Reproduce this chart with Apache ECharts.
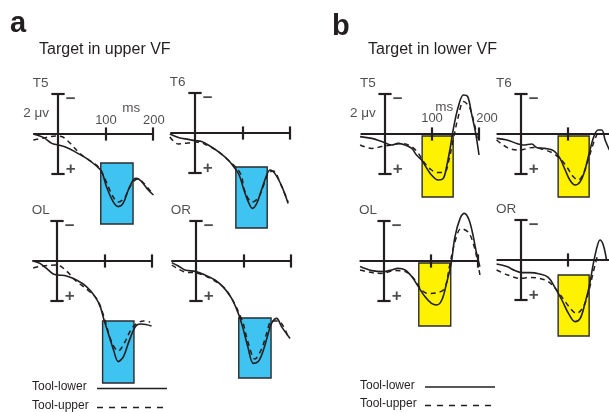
<!DOCTYPE html>
<html><head><meta charset="utf-8">
<script src="https://cdn.jsdelivr.net/npm/echarts@6/dist/echarts.min.js"></script>
<style>html,body{margin:0;padding:0;background:#fff}#c{width:609px;height:412px}</style>
</head><body><div id="c"></div>
<script>
// ---------------- DATA (time in ms, amplitude in µV, positive plotted downward) ----------------
const panelNames = ['T5', 'T6', 'OL', 'OR'];
const figureLetters = ['a', 'b'];
const figureTitles = ['Target in upper VF', 'Target in lower VF'];
const seriesNames = ['Tool-lower', 'Tool-upper'];
const axisTime = [-52, 200];      // horizontal time axis extent (ms)
const axisTicks = [100, 200];     // tick positions (ms)
const tickLabels = ['100', '200'];
const unitLabels = ['2 μv', 'ms'];
const barVolt = 2;                // half length of the amplitude scale bar (µV)

// a: target in upper visual field
const aT5_lower = [[-52,0],[-31,0.17],[-13,0.47],[1,0.55],[18,0.67],[39,0.93],[60,1.22],[81,1.6],[92,1.88],[102,2.63],[116,3.38],[127,3.63],[137,3.47],[148,2.8],[159,2.27],[166,2.22],[176,2.38],[190,2.8],[201,3.05]];
const aT5_upper = [[-52,0.3],[-30,0.2],[-5,0.1],[10,0.15],[25,0.45],[45,0.95],[65,1.3],[85,1.65],[100,2.3],[115,3.1],[127,3.4],[140,3.2],[150,2.7],[160,2.35],[168,2.25],[180,2.45],[200,3.0]];
const aT6_lower = [[-53,0.05],[-35,0.22],[-14,0.32],[0,0.38],[14,0.43],[28,0.6],[49,0.93],[70,1.35],[84,1.77],[93,2.1],[102,2.77],[112,3.43],[121,3.77],[130,3.52],[140,2.85],[151,2.1],[158,1.85],[168,2.02],[183,2.68],[196,3.52]];
const aT6_upper = [[-53,0.2],[-35,0.55],[-15,0.5],[0,0.45],[20,0.55],[50,0.95],[65,1.25],[95,2.0],[105,2.9],[120,3.45],[133,3.25],[143,2.7],[155,2.0],[165,1.9],[180,2.55],[196,3.45]];
const aOL_lower = [[-50,0],[-36,0.12],[-22,0.37],[-8,0.65],[3,0.7],[20,0.75],[41,0.95],[62,1.28],[80,1.78],[91,2.28],[99,2.95],[108,3.62],[119,4.45],[129,5.03],[140,4.78],[150,4.12],[161,3.45],[168,3.2],[178,3.15],[199,3.25]];
const aOL_upper = [[-50,0.35],[-30,0.25],[0,0.2],[20,0.5],[40,1.0],[62,1.4],[84,1.9],[97,2.65],[115,4.05],[129,4.5],[143,4.05],[153,3.55],[164,3.2],[182,3.0],[196,3.05]];
const aOR_lower = [[-51,0.08],[-37,0.25],[-23,0.45],[0,0.53],[19,0.7],[40,0.95],[58,1.32],[75,1.87],[89,2.62],[98,3.28],[109,4.28],[121,5.12],[131,5.03],[142,4.45],[152,3.62],[159,3.12],[170,2.87],[180,3.28],[198,3.87]];
const aOR_upper = [[-51,0.2],[-23,0.55],[1,0.6],[40,1.0],[65,1.5],[96,2.9],[110,4.1],[124,4.9],[138,4.4],[149,3.6],[159,3.0],[173,3.0],[194,3.8]];

// b: target in lower visual field
const bT5_lower = [[-53,0.13],[-28,0.22],[-7,0.38],[14,0.55],[28,0.47],[43,0.55],[57,0.72],[67,1.05],[78,1.3],[89,1.72],[99,2.05],[113,2.3],[124,2.22],[131,1.63],[138,0.8],[145,-0.2],[156,-1.37],[167,-1.95],[176,-1.87],[184,-1.03],[193,-0.03],[200,1.05]];
const bT5_upper = [[-53,0.55],[-28,0.72],[-7,0.63],[14,0.55],[35,0.47],[57,0.63],[71,0.97],[85,1.47],[99,1.8],[113,1.93],[128,1.88],[136,1.3],[145,0.3],[156,-0.87],[167,-1.62],[179,-1.37],[189,-0.62],[197,0.3]];
const bT6_lower = [[-52,0.22],[-30,0.3],[-9,0.47],[5,0.55],[23,0.5],[33,0.67],[51,0.72],[69,0.83],[83,1.22],[94,1.8],[104,2.3],[115,2.55],[126,2.38],[136,1.8],[145,0.97],[155,0.13],[164,-0.2],[172,-0.2],[179,0.3],[188,0.8]];
const bT6_upper = [[-52,0.3],[-30,0.67],[-9,0.8],[5,0.77],[26,0.67],[47,0.77],[69,0.97],[86,1.3],[97,1.63],[111,2.13],[122,2.3],[133,1.97],[143,1.3],[154,0.47],[164,-0.12]];
const bOL_lower = [[-51,0.28],[-26,0.48],[0,0.53],[16,0.45],[30,0.37],[45,0.45],[59,0.78],[73,1.28],[87,1.78],[101,2.12],[112,2.2],[123,1.95],[133,1.12],[143,0.12],[151,-1.22],[162,-2.13],[171,-2.38],[181,-2.05],[190,-1.22],[197,-0.38],[204,0.28]];
const bOL_upper = [[-51,0.45],[-26,0.58],[-5,0.62],[23,0.48],[45,0.53],[66,0.95],[80,1.45],[94,1.62],[115,1.58],[129,1.37],[139,0.3],[150,-0.87],[164,-1.62],[179,-1.45],[190,-0.87],[200,0.13],[204,0.7]];
const bOR_lower = [[-52,0.2],[-30,0.33],[-13,0.53],[1,0.63],[19,0.63],[40,0.7],[58,0.87],[72,1.37],[87,2.0],[101,2.67],[115,3.08],[126,2.92],[136,2.17],[145,1.33],[154,0.17],[162,-0.67],[168,-1.0],[175,-0.75],[182,0.0]];
const bOR_upper = [[-52,0.5],[-28,0.75],[-2,0.92],[19,0.87],[40,0.92],[58,1.08],[76,1.5],[94,2.08],[108,2.5],[118,2.67],[133,2.33],[143,1.67],[154,0.58],[164,-0.33]];

// analysis windows [t start, v top, t end, v bottom]
const aWindows = [[90,1.45,158,4.5],[86,1.7,152,4.75],[96,3.0,162,6.1],[90,2.85,158,5.85]];
const bWindows = [[79,0.1,145,3.15],[79,0.1,145,3.15],[74,0.1,142,3.25],[79,0.75,145,3.8]];

// ---------------- LAYOUT / STYLE ----------------
const FONT = '"Liberation Sans", Arial, Helvetica, sans-serif';
const INK = '#231f20';
const WINDOW_COLORS = ['#3fc3f0', '#fff200'];
const PX_PER_UV = 20;
const T_RANGE = [-60, 215], V_RANGE = [-3, 7];
const PANEL_ORIGINS = [
  {ox: 58, oy: 134, sx: 0.475}, {ox: 195, oy: 133, sx: 0.475}, {ox: 57, oy: 261, sx: 0.475}, {ox: 196, oy: 261, sx: 0.475},
  {ox: 385, oy: 134, sx: 0.47}, {ox: 521, oy: 134, sx: 0.47}, {ox: 384, oy: 261, sx: 0.47}, {ox: 521, oy: 260, sx: 0.47}
];
const CAP_HALF = 14, TICK_HALF = 0.33;
const SIGN_POS = {t: 27, v: 1.75};
const NAME_POS = {t: -53, v: -2.55};
const SCALE_LABEL_POS = [
  {unit: [[-46, -1.05], [154, -1.3]], ticks: [[101, -0.7], [202, -0.7]]},
  {unit: [[-47, -1.05], [126, -1.35]], ticks: [[100, -0.8], [217, -0.8]]}
];

const waves = [
  [aT5_lower, aT5_upper], [aT6_lower, aT6_upper], [aOL_lower, aOL_upper], [aOR_lower, aOR_upper],
  [bT5_lower, bT5_upper], [bT6_lower, bT6_upper], [bOL_lower, bOL_upper], [bOR_lower, bOR_upper]
];
const windows = aWindows.concat(bWindows);

const grids = [], xAxes = [], yAxes = [], series = [];
PANEL_ORIGINS.forEach((p, i) => {
  grids.push({
    left: p.ox + T_RANGE[0] * p.sx, top: p.oy + V_RANGE[0] * PX_PER_UV,
    width: (T_RANGE[1] - T_RANGE[0]) * p.sx, height: (V_RANGE[1] - V_RANGE[0]) * PX_PER_UV,
    outerBoundsMode: 'none', containLabel: false
  });
  xAxes.push({type: 'value', gridIndex: i, min: T_RANGE[0], max: T_RANGE[1], show: false});
  yAxes.push({type: 'value', gridIndex: i, min: V_RANGE[0], max: V_RANGE[1], inverse: true, show: false});
  const half = i < 4 ? 0 : 1;
  const win = windows[i];
  const [lower, upper] = waves[i];

  // axis cross (time axis, amplitude bar, caps, ticks)
  const axisSegs = [
    {coords: [[axisTime[0], 0], [axisTime[1], 0]]},
    {coords: [[0, -barVolt], [0, barVolt]]},
    {coords: [[-CAP_HALF, -barVolt], [CAP_HALF, -barVolt]]},
    {coords: [[-CAP_HALF, barVolt], [CAP_HALF, barVolt]]}
  ].concat(axisTicks.map(t => ({coords: [[t, -TICK_HALF], [t, TICK_HALF]]})));
  series.push({
    type: 'lines', coordinateSystem: 'cartesian2d', xAxisIndex: i, yAxisIndex: i, z: 3, silent: true, clip: false,
    polyline: false, lineStyle: {color: INK, width: 2.2, opacity: 1, cap: 'butt'}, data: axisSegs
  });

  // waveforms
  series.push({
    name: seriesNames[0], type: 'line', xAxisIndex: i, yAxisIndex: i, data: lower, z: 4, clip: false,
    symbol: 'none', smooth: 0.35, silent: true, lineStyle: {color: INK, width: 1.6},
    markArea: {
      silent: true, z: 1,
      itemStyle: {color: WINDOW_COLORS[half], opacity: 1, borderColor: '#2b2b2b', borderWidth: 1.4},
      data: [[{coord: [win[0], win[1]]}, {coord: [win[2], win[3]]}]]
    }
  });
  series.push({
    name: seriesNames[1], type: 'line', xAxisIndex: i, yAxisIndex: i, data: upper, z: 4, clip: false,
    symbol: 'none', smooth: 0.35, silent: true, lineStyle: {color: INK, width: 1.5, type: [5, 4]}
  });

  // annotations
  const ann = [
    {value: [SIGN_POS.t, -SIGN_POS.v], label: {formatter: '−', fontSize: 17, fontWeight: 'bold'}},
    {value: [SIGN_POS.t, SIGN_POS.v], label: {formatter: '+', fontSize: 17, fontWeight: 'bold'}},
    {value: [NAME_POS.t, NAME_POS.v], label: {formatter: panelNames[i % 4], position: 'right', distance: 0, fontSize: 13.5}}
  ];
  if (i % 4 === 0) {
    const lp = SCALE_LABEL_POS[half];
    unitLabels.forEach((u, k) => ann.push({value: lp.unit[k], label: {formatter: u, fontSize: 13.5}}));
    tickLabels.forEach((u, k) => ann.push({value: lp.ticks[k], label: {formatter: u, fontSize: 13}}));
  }
  series.push({
    type: 'scatter', xAxisIndex: i, yAxisIndex: i, symbolSize: 0, z: 5, silent: true, clip: false,
    label: {show: true, position: 'inside', color: INK, fontFamily: FONT},
    data: ann
  });
});

// titles and legends
const graphic = [];
const LETTER_POS = [[10, 24], [332, 27]];
const TITLE_POS = [[39, 49.5], [368, 49.5]];
const LEGEND_POS = [{tx: 32, lx: 97, y: [387, 406]}, {tx: 360, lx: 425, y: [385.5, 404]}];
figureLetters.forEach((l, k) => {
  graphic.push({type: 'text', x: LETTER_POS[k][0], y: LETTER_POS[k][1],
    style: {text: l, font: 'bold 29px ' + FONT, fill: INK, textVerticalAlign: 'middle'}});
  graphic.push({type: 'text', x: TITLE_POS[k][0], y: TITLE_POS[k][1],
    style: {text: figureTitles[k], font: '16px ' + FONT, fill: INK, textVerticalAlign: 'middle'}});
  const lg = LEGEND_POS[k];
  seriesNames.forEach((n, j) => {
    graphic.push({type: 'text', x: lg.tx, y: lg.y[j],
      style: {text: n, font: '12px ' + FONT, fill: INK, textVerticalAlign: 'middle'}});
    graphic.push({type: 'line', shape: {x1: lg.lx, y1: lg.y[j] + 1.5, x2: lg.lx + 70, y2: lg.y[j] + 1.5},
      style: {stroke: INK, lineWidth: j === 0 ? 1.6 : 1.5, lineDash: j === 0 ? null : [6, 6]}});
  });
});

const chart = echarts.init(document.getElementById('c'), null, {renderer: 'canvas'});
chart.setOption({
  animation: false,
  backgroundColor: '#ffffff',
  grid: grids, xAxis: xAxes, yAxis: yAxes, series: series, graphic: graphic
});
</script>
</body></html>
